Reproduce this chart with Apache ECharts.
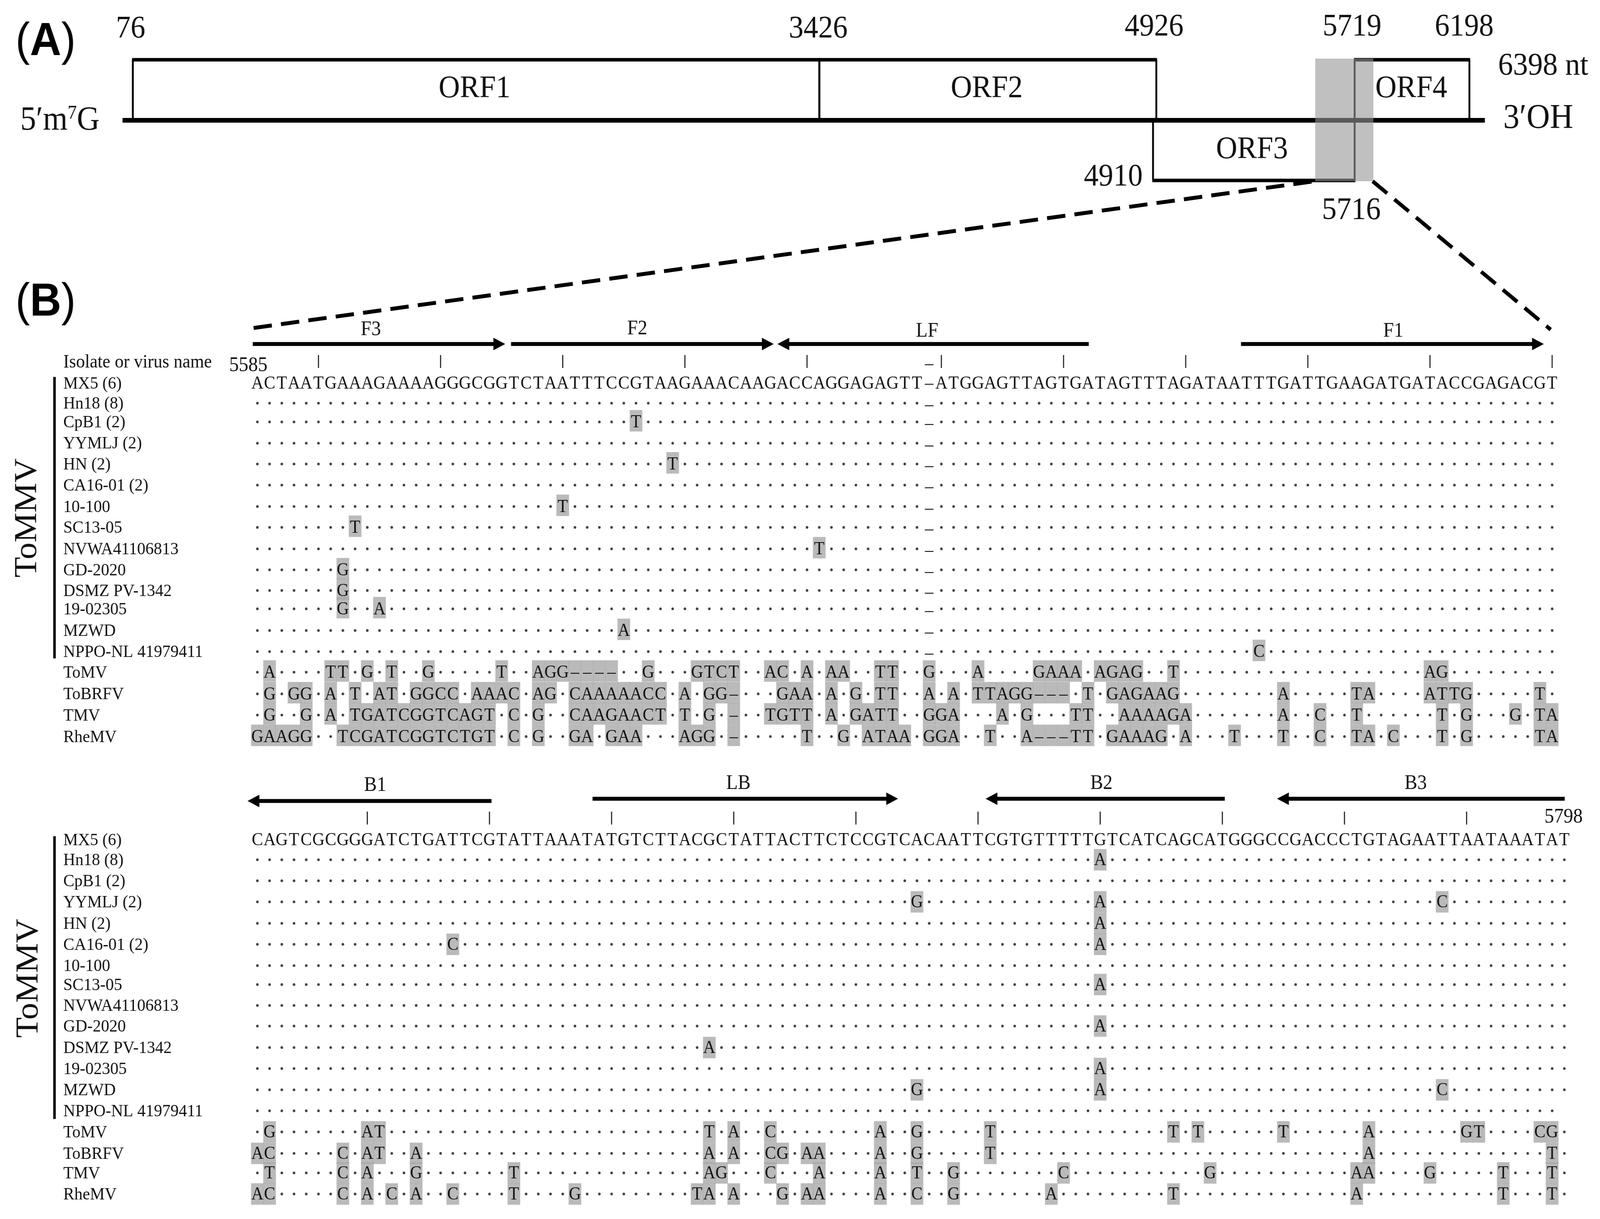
<!DOCTYPE html>
<html lang="en">
<head>
<meta charset="UTF-8">
<title>ToMMV genome map and primer alignment</title>
<script src="https://cdn.jsdelivr.net/npm/echarts@6/dist/echarts.min.js"></script>
<style>html, body { margin: 0; background: #fff; overflow: hidden; }</style>
</head>
<body>
<div id="box" style="width:4349px;height:3121px;transform-origin:0 0;"></div>
<script>
// ---- data ----
var orfNames = ['ORF1', 'ORF2', 'ORF3', 'ORF4'];
var orfStarts = [76, 3426, 4910, 5719];
var orfEnds = [3426, 4926, 5716, 6198];
var genomeLength = 6398;
var regionStart = 5585;
var regionEnd = 5798;

var isolateNames = ['MX5 (6)', 'Hn18 (8)', 'CpB1 (2)', 'YYMLJ (2)', 'HN (2)', 'CA16-01 (2)', '10-100', 'SC13-05',
    'NVWA41106813', 'GD-2020', 'DSMZ PV-1342', '19-02305', 'MZWD', 'NPPO-NL 41979411'];
var virusNames = ['ToMV', 'ToBRFV', 'TMV', 'RheMV'];

var topReference = 'ACTAATGAAAGAAAAGGGCGGTCTAATTTCCGTAAGAAACAAGACCAGGAGAGTT-ATGGAGTTAGTGATAGTTTAGATAATTTGATTGAAGATGATACCGAGACGT';
var topVirusRows = [
    '.A....TT.G.T..G.....T..AGG----..G...GTCT..AC.A.AA..TT..G...A....GAAA.AGAG..T....................AG.........',
    '.G.GG.A.T.AT.GGCC.AAAC.AG.CAAAAACC.A.GG-...GAA.A.G.TT..A.A.TTAGG---.T.GAGAAG........A.....TA....ATTG.....T.',
    '.G..G.A.TGATCGGTCAGT.C.G..CAAGAACT.T.G.-..TGTT.A.GATT..GGA...A.G...TT..AAAAGA.......A..C..T......T.G...G.TA',
    'GAAGG..TCGATCGGTCTGT.C.G..GA.GAA...AGG.-.....T..G.ATAA.GGA..T..A---TT.GAAAG.A...T...T..C..TA.C...T.G.....TA'
];
var topGapColumn = 55;
// [row, column, base] in the isolate rows
var topVariants = [[2, 31, 'T'], [4, 34, 'T'], [6, 25, 'T'], [7, 8, 'T'], [8, 46, 'T'], [9, 7, 'G'], [10, 7, 'G'],
    [11, 7, 'G'], [11, 10, 'A'], [12, 30, 'A'], [13, 82, 'C']];
var topTicks = [5, 15, 25, 35, 45, 56, 66, 76, 86, 96, 106];

var bottomReference = 'CAGTCGCGGGATCTGATTCGTATTAAATATGTCTTACGCTATTACTTCTCCGTCACAATTCGTGTTTTTGTCATCAGCATGGGCCGACCCTGTAGAATTAATAAATAT';
var bottomVariants = [
    [1, 69, 'A'], [3, 54, 'G'], [3, 69, 'A'], [3, 97, 'C'], [4, 69, 'A'], [5, 16, 'C'], [5, 69, 'A'], [7, 69, 'A'],
    [9, 69, 'A'], [10, 37, 'A'], [11, 69, 'A'], [12, 54, 'G'], [12, 69, 'A'], [12, 97, 'C'], [13, 107, ' '],
    // ToMV
    [14, 1, 'G'], [14, 9, 'A'], [14, 10, 'T'], [14, 37, 'T'], [14, 39, 'A'], [14, 42, 'C'], [14, 51, 'A'], [14, 54, 'G'],
    [14, 60, 'T'], [14, 75, 'T'], [14, 77, 'T'], [14, 84, 'T'], [14, 91, 'A'], [14, 99, 'G'], [14, 100, 'T'], [14, 105, 'C'], [14, 106, 'G'],
    // ToBRFV
    [15, 0, 'A'], [15, 1, 'C'], [15, 7, 'C'], [15, 9, 'A'], [15, 10, 'T'], [15, 13, 'A'], [15, 37, 'A'], [15, 39, 'A'], [15, 42, 'C'],
    [15, 43, 'G'], [15, 45, 'A'], [15, 46, 'A'], [15, 51, 'A'], [15, 54, 'G'], [15, 60, 'T'], [15, 91, 'A'], [15, 106, 'T'],
    // TMV
    [16, 1, 'T'], [16, 7, 'C'], [16, 9, 'A'], [16, 13, 'G'], [16, 21, 'T'], [16, 37, 'A'], [16, 38, 'G'], [16, 42, 'C'], [16, 46, 'A'],
    [16, 51, 'A'], [16, 54, 'T'], [16, 57, 'G'], [16, 66, 'C'], [16, 78, 'G'], [16, 90, 'A'], [16, 91, 'A'], [16, 96, 'G'], [16, 102, 'T'], [16, 106, 'T'],
    // RheMV
    [17, 0, 'A'], [17, 1, 'C'], [17, 7, 'C'], [17, 9, 'A'], [17, 11, 'C'], [17, 13, 'A'], [17, 16, 'C'], [17, 21, 'T'], [17, 26, 'G'], [17, 36, 'T'],
    [17, 37, 'A'], [17, 39, 'A'], [17, 43, 'G'], [17, 45, 'A'], [17, 46, 'A'], [17, 51, 'A'], [17, 54, 'C'], [17, 57, 'G'], [17, 65, 'A'], [17, 75, 'T'],
    [17, 90, 'A'], [17, 102, 'T'], [17, 106, 'T']
];
var bottomTicks = [9, 19, 29, 39, 49, 59, 69, 79, 89, 99];

// primer name, tail column, head column
var topPrimers = [['F3', -0.38, 20.29], ['F2', 20.77, 42.27], ['LF', 68.06, 42.58], ['F1', 80.53, 105.32]];
var bottomPrimers = [['B1', 19.17, -0.8], ['LB', 27.44, 52.45], ['B2', 79.2, 59.62], ['B3', 107.03, 83.48]];

// ---- layout ----
var W = 4349, H = 3121;
var serif = '"Liberation Serif"';
var ink = '#111111';
var shade = '#a9a9a9';

// the genome map is a schematic, not to scale: nt position -> map position
var mapNt = [1, 76, 3426, 4910, 4926, 5585, 5716, 5719, 5798, 6198, 6398];
var mapAt = [333, 361, 2227, 3134, 3143, 3575, 3682, 3682, 3733, 3994, 4036];
function ntX(nt) {
    for (var i = 1; i < mapNt.length; i++) {
        if (nt <= mapNt[i]) {
            return mapAt[i - 1] + (nt - mapNt[i - 1]) / (mapNt[i] - mapNt[i - 1]) * (mapAt[i] - mapAt[i - 1]);
        }
    }
    return mapAt[mapAt.length - 1];
}
var mapTop = 153, mapBase = 308, mapLow = 462;

// vertical place of each alignment row on the y scale
var topSlots = [0, 0.96, 1.86, 2.88, 3.88, 4.89, 5.92, 6.92, 7.95, 8.96, 9.95, 10.83, 11.87, 12.88, 13.87, 14.91, 15.93, 16.96];
var bottomSlots = [0, 0.96, 1.97, 2.98, 4.01, 5.02, 6.04, 6.95, 7.95, 8.94, 9.97, 10.98, 12, 13.01, 14.02, 15.05, 15.99, 17];

function text(p, str, size, extra) {
    var el = {
        type: 'text',
        style: { text: str, x: p[0], y: p[1], font: size + 'px ' + serif, fill: ink, align: 'center', verticalAlign: 'middle' }
    };
    if (extra) { for (var k in extra) { el.style[k] = extra[k]; } }
    return el;
}
function line(a, b, width, color, dash) {
    return {
        type: 'line',
        shape: { x1: a[0], y1: a[1], x2: b[0], y2: b[1] },
        style: { stroke: color || '#000', lineWidth: width, lineDash: dash || null }
    };
}

// one custom series that draws a list of things on a grid
function sketch(gridIndex, name, items, draw) {
    return {
        type: 'custom', name: name, silent: true, animation: false,
        coordinateSystem: 'cartesian2d', xAxisIndex: gridIndex, yAxisIndex: gridIndex,
        data: items.map(function (d, i) { return [i, 0]; }),
        encode: { x: 0, y: 1 },
        renderItem: function (params, api) {
            return draw(items[params.dataIndex], function (x, y) { return api.coord([x, y]); });
        }
    };
}

function alignmentSeries(g, reference, slots, rowCell, columns, ticks, primers, primerY, cfg) {
    var cells = [], dots = [], letters = [], gaps = [];
    for (var c = 0; c < reference.length; c++) {
        letters.push([c, slots[0], reference.charAt(c) === '-' ? '\u2013' : reference.charAt(c)]);
    }
    for (var r = 1; r < slots.length; r++) {
        for (var col = 0; col < columns; col++) {
            var ch = rowCell(r, col);
            if (ch === '.') { dots.push([col, slots[r]]); }
            else if (ch === '_') { gaps.push([col, slots[r]]); }
            else if (ch !== ' ') {
                cells.push([col, slots[r]]);
                letters.push([col, slots[r], ch === '-' ? '\u2013' : ch]);
            }
        }
    }
    var labels = isolateNames.concat(virusNames);
    var out = [];
    out.push({
        type: 'scatter', name: 'substitution', silent: true, animation: false, progressive: 0,
        xAxisIndex: g, yAxisIndex: g, symbol: 'rect', symbolSize: [34.4, 55], symbolOffset: [0, cfg.cellShift],
        itemStyle: { color: shade }, data: cells, z: 2
    });
    out.push({
        type: 'scatter', name: 'identical', silent: true, animation: false, progressive: 0,
        xAxisIndex: g, yAxisIndex: g, symbol: 'circle', symbolSize: 7,
        itemStyle: { color: '#111' }, data: dots, z: 3
    });
    var s = sketch(g, 'bases', letters, function (d, at) {
        var p = at(d[0], d[1]);
        return text([p[0], p[1] + 2], d[2], 46);
    });
    s.z = 4;
    out.push(s);
    s = sketch(g, 'gaps', gaps, function (d, at) {
        var p = at(d[0], d[1]);
        return text([p[0], p[1] + 6], '\u2013', 46);
    });
    s.z = 4;
    out.push(s);
    s = sketch(g, 'ticks', ticks, function (c, at) {
        return line(at(c, -1.35), at(c, -0.73), 3, '#222');
    });
    out.push(s);
    s = sketch(g, 'primers', primers, function (d, at) {
        var y = primerY[d[0]][0];
        var tail = at(d[1], y), head = at(d[2], y);
        var dir = head[0] > tail[0] ? 1 : -1;
        var label = at(primerY[d[0]][1], primerY[d[0]][2]);
        return {
            type: 'group',
            children: [
                line(tail, [head[0] - dir * 24, head[1]], 10),
                {
                    type: 'polygon',
                    shape: { points: [[head[0], head[1]], [head[0] - dir * 32, head[1] - 16], [head[0] - dir * 32, head[1] + 16]] },
                    style: { fill: '#000' }
                },
                text(label, d[0], 52)
            ]
        };
    });
    out.push(s);
    s = sketch(g, 'row names', labels, function (d, at) {
        var i = labels.indexOf(d);
        var p = at(-15.89, slots[i]);
        return text([p[0], p[1] + 2], d, 45, { align: 'left' });
    });
    out.push(s);
    s = sketch(g, 'group', ['ToMMV'], function (d, at) {
        var p = at(cfg.groupCol, cfg.groupSlot);
        var el = text([0, 0], d, 86);
        el.x = p[0]; el.y = p[1]; el.rotation = Math.PI / 2;
        return {
            type: 'group',
            children: [el, line(at(-16.61, cfg.barFrom), at(-16.61, cfg.barTo), 7)]
        };
    });
    out.push(s);
    return out;
}

// ---- panel A ----
var mapItems = [];
orfNames.forEach(function (name, i) { mapItems.push(i); });

var seriesList = [];
seriesList.push(sketch(0, 'ORF boxes', mapItems, function (i, at) {
    var l = ntX(orfStarts[i]), r = ntX(orfEnds[i]);
    var outer = orfNames[i] === 'ORF3' ? mapLow : mapTop;
    return {
        type: 'group',
        children: [
            line(at(l, mapBase), at(l, outer), 5),
            line(at(r, mapBase), at(r, outer), 5),
            line(at(l - 2, outer), at(r + 2, outer), 9)
        ]
    };
}));
seriesList.push(sketch(0, 'genome', [genomeLength], function (n, at) {
    return line(at(ntX(1), mapBase), at(ntX(n), mapBase), 12);
}));
seriesList.push(sketch(0, 'region', [[regionStart, regionEnd]], function (d, at) {
    var a = at(ntX(d[0]), 150), b = at(ntX(d[1]), 464);
    return {
        type: 'rect',
        shape: { x: a[0], y: a[1], width: b[0] - a[0], height: b[1] - a[1] },
        style: { fill: 'rgba(150,150,150,0.6)' }
    };
}));
seriesList.push(sketch(0, 'zoom lines', [[3565, 465, 687, 840], [3731, 464, 4215, 844]], function (d, at) {
    return line(at(d[0], d[1]), at(d[2], d[3]), 10, '#000', [50, 25]);
}));

// text label, x, y on the map
var mapLabels = [
    ['76', 355, 75], ['3426', 2224, 75], ['4926', 3137, 70], ['5719', 3675, 70], ['6198', 3980, 70],
    ['4910', 3026, 454], ['5716', 3673, 540],
    ['ORF1', 1290, 228], ['ORF2', 2682, 228], ['ORF3', 3403, 384], ['ORF4', 3836, 228]
];
seriesList.push(sketch(0, 'map labels', mapLabels, function (d, at) {
    return text(at(d[1], d[2]), d[0], 80);
}));
seriesList.push(sketch(0, 'map ends', [0], function (d, at) {
    var sup = { a: { font: '86px ' + serif, fill: ink }, s: { font: '50px ' + serif, fill: ink, verticalAlign: 'top' } };
    return {
        type: 'group',
        children: [
            text(at(4072, 170), genomeLength + ' nt', 81, { align: 'left' }),
            text(at(4086, 304), '3\u2032OH', 88, { align: 'left' }),
            text(at(55, 309), '{a|5\u2032m}{s|7}{a|G}', 86, { align: 'left', rich: sup })
        ]
    };
}));
seriesList.push(sketch(0, 'panel letters', [['A', 108], ['B', 775]], function (d, at) {
    var rich = {
        a: { font: '118px "Liberation Sans"', fill: '#000' },
        b: { font: 'bold 118px "Liberation Sans"', fill: '#000' }
    };
    return text(at(42, d[1]), '{a|(}{b|' + d[0] + '}{a|)}', 118, { align: 'left', rich: rich });
}));

// ---- panel B ----
var topPrimerY = {
    F3: [-1.88, 9.29, -2.57], F2: [-1.88, 31.1, -2.6], LF: [-1.88, 54.83, -2.49], F1: [-1.88, 93, -2.49]
};
var bottomPrimerY = {
    B1: [-1.86, 9.65, -2.59], LB: [-1.97, 39.38, -2.7], B2: [-1.97, 69.1, -2.7], B3: [-1.97, 94.83, -2.7]
};

function topCell(r, col) {
    if (r >= 14) { return topVirusRows[r - 14].charAt(col); }
    if (col === topGapColumn) { return '_'; }
    for (var i = 0; i < topVariants.length; i++) {
        if (topVariants[i][0] === r && topVariants[i][1] === col) { return topVariants[i][2]; }
    }
    return '.';
}
function bottomCell(r, col) {
    for (var i = 0; i < bottomVariants.length; i++) {
        if (bottomVariants[i][0] === r && bottomVariants[i][1] === col) { return bottomVariants[i][2]; }
    }
    return '.';
}

seriesList = seriesList.concat(alignmentSeries(1, topReference, topSlots, topCell, topReference.length, topTicks, topPrimers, topPrimerY,
    { groupCol: -18.79, groupSlot: 6.47, barFrom: -0.3, barTo: 13.21, cellShift: -3 }));
seriesList = seriesList.concat(alignmentSeries(2, bottomReference, bottomSlots, bottomCell, bottomReference.length, bottomTicks, bottomPrimers, bottomPrimerY,
    { groupCol: -18.67, groupSlot: 6.65, barFrom: -0.17, barTo: 13.4, cellShift: 0 }));

// header bits that only one panel has
seriesList.push(sketch(1, 'header', [0], function (d, at) {
    return {
        type: 'group',
        children: [
            text(at(-15.89, -0.99), 'Isolate or virus name', 48, { align: 'left' }),
            text(at(-0.74, -0.84), String(regionStart), 52),
            text(at(topGapColumn, -0.9), '\u2013', 46)
        ]
    };
}));
seriesList.push(sketch(2, 'header', [0], function (d, at) {
    return text(at(106.94, -1.09), String(regionEnd), 52);
}));

// the browser window can come out narrower than the figure, so fit the figure to the window
var box = document.getElementById('box');
box.style.transform = 'scale(' + (window.innerWidth / W) + ',' + (window.innerHeight / H) + ')';

var myChart = echarts.init(box, null, { renderer: 'canvas', width: W, height: H });
function hiddenAxis(min, max, inverse, grid) {
    return { type: 'value', show: false, min: min, max: max, inverse: inverse, gridIndex: grid };
}
var option = {
    backgroundColor: '#fff',
    animation: false,
    grid: [
        { left: 0, top: 0, width: W, height: 800 },
        { left: 0, top: 800, width: W, height: 1150 },
        { left: 0, top: 1950, width: W, height: 1171 }
    ],
    xAxis: [
        hiddenAxis(0, W, false, 0),
        hiddenAxis(-21.07, 109.92, false, 1),
        hiddenAxis(-21.07, 109.92, false, 2)
    ],
    yAxis: [
        hiddenAxis(0, 800, true, 0),
        hiddenAxis(-3.393, 18.163, true, 1),
        hiddenAxis(-3.749, 18.2, true, 2)
    ],
    series: seriesList
};
myChart.setOption(option);
</script>
</body>
</html>
